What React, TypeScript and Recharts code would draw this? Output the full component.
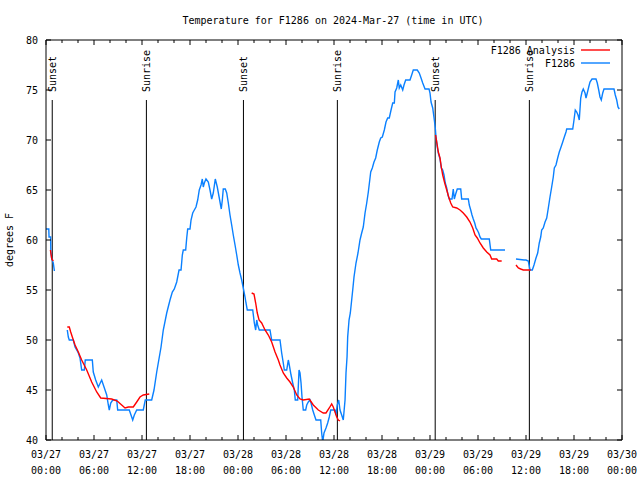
import React from 'react';
import { LineChart, Line, XAxis, YAxis, ReferenceLine } from 'recharts';

type Pt = [number, number];

// Observations (F1286), hours since 03/27 00:00 UTC, degrees F
const obsSeg1: Pt[] = [
  [0, 61.1], [0.35, 61.1], [0.38, 60.3], [0.58, 60.3], [0.6, 58.8], [0.72, 58.1], [0.91, 57.7], [1.05, 56.9],
];
const obsSeg2: Pt[] = [
  [2.66, 51.0], [2.79, 50.3], [2.91, 50.0], [3.41, 50.0], [3.63, 49.3], [3.84, 49.0], [4.04, 48.7], [4.25, 48.2],
  [4.46, 47.0], [4.79, 47.0], [4.91, 48.0], [5.79, 48.0], [5.91, 46.8], [6.21, 46.0], [6.54, 45.3], [6.96, 46.0],
  [7.38, 45.0], [7.59, 44.5], [7.79, 43.5], [7.91, 43.0], [8.09, 43.7], [8.34, 44.0], [8.84, 44.0], [8.96, 43.0],
  [10.41, 43.0], [10.71, 42.3], [10.84, 42.0], [11.04, 42.5], [11.34, 43.0], [12.16, 43.0], [12.41, 44.0], [13.21, 44.0],
  [13.5, 45.0], [13.84, 46.8], [14.38, 49.3], [14.66, 51.0], [15.09, 52.7], [15.5, 54.0], [15.79, 54.8], [16.04, 55.1],
  [16.34, 55.8], [16.63, 57.0], [16.88, 57.0], [17.04, 58.5], [17.16, 59.0], [17.46, 59.0], [17.59, 60.2], [17.71, 61.1],
  [18.0, 61.1], [18.13, 62.0], [18.34, 62.7], [18.54, 63.0], [18.75, 63.3], [18.96, 64.0], [19.16, 65.0], [19.38, 65.5],
  [19.54, 66.1], [19.66, 65.3], [19.79, 65.7], [20.0, 66.1], [20.29, 65.8], [20.5, 65.0], [20.71, 64.1], [20.91, 64.7],
  [21.16, 66.1], [21.41, 65.3], [21.66, 64.2], [21.91, 63.1], [22.04, 64.0], [22.16, 65.1], [22.41, 65.1], [22.59, 64.7],
  [22.79, 63.7], [23.0, 62.5], [23.21, 61.5], [23.41, 60.5], [23.63, 59.5], [23.84, 58.5], [24.04, 57.5], [24.25, 56.7],
  [24.46, 56.0], [24.66, 55.2], [24.88, 54.3], [25.0, 53.7], [25.16, 53.0], [25.84, 53.0], [26.04, 51.7], [26.21, 51.0],
  [26.34, 52.0], [26.46, 51.5], [26.66, 51.0], [28.0, 51.0], [28.21, 50.0], [29.25, 50.0], [29.46, 48.7], [29.66, 47.7],
  [29.79, 47.0], [30.09, 47.0], [30.29, 48.0], [30.41, 47.5], [30.63, 46.5], [30.84, 45.7], [31.04, 45.0], [31.16, 44.0],
  [31.46, 44.0], [31.63, 47.0], [31.75, 46.7], [31.88, 45.7], [32.0, 44.3], [32.16, 43.0], [32.46, 43.0], [32.59, 43.5],
  [32.79, 43.8], [33.0, 44.0], [33.13, 43.7], [33.34, 43.0], [33.54, 42.5], [33.75, 42.0], [34.34, 42.0], [34.46, 40.7],
  [34.59, 39.8], [34.75, 40.7], [35.0, 41.2], [35.21, 41.7], [35.41, 42.3], [35.59, 43.0], [36.13, 43.0], [36.25, 42.5],
  [36.41, 43.5], [36.59, 44.0], [36.75, 43.0], [36.96, 42.5], [37.16, 42.0], [37.38, 44.0], [37.5, 46.7], [37.63, 48.3],
  [37.71, 50.3], [37.88, 52.0], [38.04, 52.7], [38.21, 54.0], [38.34, 55.0], [38.5, 56.3], [38.75, 57.7], [39.0, 58.7],
  [39.25, 60.0], [39.46, 60.7], [39.66, 61.3], [39.88, 62.7], [40.09, 63.7], [40.29, 64.8], [40.5, 66.2], [40.59, 66.8],
  [40.79, 67.2], [41.0, 67.8], [41.21, 68.2], [41.41, 69.0], [41.66, 69.8], [41.84, 70.2], [42.04, 70.3], [42.29, 71.0],
  [42.5, 71.8], [42.71, 72.2], [42.91, 72.2], [43.13, 73.0], [43.34, 73.7], [43.54, 73.7], [43.63, 74.8], [43.84, 75.2],
  [44.04, 76.0], [44.16, 75.2], [44.34, 75.5], [44.59, 75.0], [44.75, 75.5], [44.96, 76.0], [45.5, 76.0], [45.71, 76.5],
  [45.91, 77.0], [46.41, 77.0], [46.66, 76.7], [46.88, 76.2], [47.09, 75.7], [47.38, 75.1], [47.88, 75.1], [48.0, 74.7],
  [48.13, 73.8], [48.34, 73.2], [48.54, 72.0], [48.66, 71.2], [48.75, 70.3], [48.91, 69.3], [49.04, 68.7], [49.25, 68.1],
  [49.41, 67.2], [49.59, 67.0], [49.75, 66.5], [49.91, 65.7], [50.09, 65.2], [50.25, 64.5], [50.41, 64.1], [50.75, 64.1],
  [50.91, 65.1], [51.04, 64.1], [51.21, 64.6], [51.41, 65.1], [51.84, 65.1], [51.96, 64.1], [52.79, 64.1], [52.91, 63.5],
  [53.09, 63.0], [53.25, 62.5], [53.41, 62.1], [53.59, 61.7], [53.75, 61.2], [53.91, 61.0], [54.09, 60.7], [54.25, 60.3],
  [54.41, 60.1], [55.41, 60.1], [55.59, 59.0], [57.38, 59.0],
];
const obsSeg3: Pt[] = [
  [58.75, 58.1], [59.75, 58.0], [60.0, 58.0], [60.29, 57.9], [60.5, 57.0], [60.79, 57.0], [61.0, 57.5], [61.25, 58.2],
  [61.46, 58.7], [61.66, 59.7], [61.84, 60.3], [61.96, 61.0], [62.16, 61.2], [62.38, 61.8], [62.59, 62.2], [62.79, 63.2],
  [63.0, 64.3], [63.21, 65.3], [63.41, 66.3], [63.54, 67.2], [63.75, 67.5], [63.96, 68.2], [64.16, 68.8], [64.38, 69.3],
  [64.59, 69.8], [64.79, 70.3], [65.0, 70.8], [65.09, 71.1], [65.84, 71.1], [66.0, 72.0], [66.16, 73.0], [66.34, 72.8],
  [66.5, 72.5], [66.66, 72.0], [66.84, 74.2], [67.0, 74.8], [67.16, 75.1], [67.38, 74.7], [67.5, 74.2], [67.66, 74.7],
  [67.84, 75.3], [68.0, 75.8], [68.25, 76.1], [68.75, 76.1], [68.91, 75.7], [69.09, 75.0], [69.25, 74.3], [69.41, 74.0],
  [69.59, 74.7], [69.75, 75.1], [71.0, 75.1], [71.16, 74.5], [71.34, 74.0], [71.5, 73.3], [71.66, 73.1],
];

// Analysis (F1286 Analysis)
const anaSeg1: Pt[] = [[0.55, 59.0], [0.72, 58.1], [0.91, 57.9]];
const anaSeg2: Pt[] = [
  [2.66, 51.3], [2.91, 51.3], [3.09, 50.8], [3.29, 50.3], [3.63, 49.5], [4.04, 48.8], [4.46, 48.0], [5.09, 47.0],
  [5.71, 45.8], [6.34, 44.8], [6.84, 44.2], [8.21, 44.1], [8.91, 43.9], [9.46, 43.5], [9.88, 43.2], [10.29, 43.3],
  [10.91, 43.3], [11.34, 43.8], [11.75, 44.3], [12.16, 44.5], [12.91, 44.6],
];
const anaSeg3: Pt[] = [
  [25.71, 54.7], [26.0, 54.6], [26.21, 53.7], [26.41, 52.7], [26.63, 52.0], [26.96, 51.7], [27.38, 51.0], [27.79, 50.5],
  [28.21, 49.8], [28.63, 48.8], [29.04, 48.0], [29.25, 47.5], [29.66, 46.7], [30.09, 46.2], [30.5, 45.8], [30.91, 45.3],
  [31.34, 44.5], [31.75, 44.1], [32.16, 44.0], [32.91, 44.1], [33.41, 43.5], [34.04, 43.0], [34.66, 42.7], [35.0, 42.7],
  [35.41, 43.2], [35.71, 43.6], [35.91, 43.3], [36.13, 42.8], [36.34, 42.3], [36.54, 42.0], [36.75, 41.9],
];
const anaSeg4: Pt[] = [
  [48.7, 70.5], [49.04, 68.8], [49.25, 68.2], [49.41, 67.3], [49.59, 66.5], [49.84, 65.7], [50.09, 65.0], [50.34, 64.3],
  [50.59, 63.7], [50.84, 63.3], [51.34, 63.2], [51.75, 63.0], [52.16, 62.7], [52.59, 62.3], [53.0, 61.8], [53.34, 61.2],
  [53.63, 60.5], [53.91, 60.2], [54.25, 59.7], [54.66, 59.2], [55.09, 58.8], [55.5, 58.5], [55.71, 58.1], [56.34, 58.1],
  [56.54, 57.9], [56.96, 57.9],
];
const anaSeg5: Pt[] = [[58.75, 57.5], [59.04, 57.2], [59.34, 57.1], [59.66, 57.0], [60.59, 57.0]];

const obsSegments = [obsSeg1, obsSeg2, obsSeg3];
const anaSegments = [anaSeg1, anaSeg2, anaSeg3, anaSeg4, anaSeg5];

// Sun events
const sunHours = [0.78, 12.55, 24.68, 36.42, 48.65, 60.42];
const sunNames = ['Sunset', 'Sunrise', 'Sunset', 'Sunrise', 'Sunset', 'Sunrise'];
const SUN_LINE_TOP = 74;

// Axis ticks
const xTickHours = [0, 2, 4, 6, 8, 10, 12, 14, 16, 18, 20, 22, 24, 26, 28, 30, 32, 34, 36, 38, 40, 42, 44, 46, 48, 50, 52, 54, 56, 58, 60, 62, 64, 66, 68, 70, 72];
const xMajorHours = [0, 6, 12, 18, 24, 30, 36, 42, 48, 54, 60, 66, 72];
const xLabelDates = ['03/27', '03/27', '03/27', '03/27', '03/28', '03/28', '03/28', '03/28', '03/29', '03/29', '03/29', '03/29', '03/30'];
const xLabelTimes = ['00:00', '06:00', '12:00', '18:00', '00:00', '06:00', '12:00', '18:00', '00:00', '06:00', '12:00', '18:00', '00:00'];
const yTicks = [40, 45, 50, 55, 60, 65, 70, 75, 80];

const title = 'Temperature for F1286 on 2024-Mar-27 (time in UTC)';
const yTitle = 'degrees F';
const anaName = 'F1286 Analysis';
const obsName = 'F1286';

const FONT = '"DejaVu Sans Mono", monospace';
const FS = 10;
const BLUE = '#0a80ff';
const RED = '#ff0000';
const LW = 1.4;

function joinSegments(segs: Pt[][]) {
  const out: { t: number; v: number | null }[] = [];
  segs.forEach((s, i) => {
    if (i > 0) {
      const prev = segs[i - 1];
      out.push({ t: (prev[prev.length - 1][0] + s[0][0]) / 2, v: null });
    }
    s.forEach(([t, v]) => out.push({ t, v }));
  });
  return out;
}

const obsData = joinSegments(obsSegments);
const anaData = joinSegments(anaSegments);

const BottomTick = (props: any) => {
  const { x, y, payload } = props;
  const idx = xMajorHours.indexOf(payload.value);
  const major = idx >= 0;
  return (
    <g>
      <line x1={x} x2={x} y1={y} y2={y - (major ? 5 : 3)} stroke="#000" strokeWidth={1} />
      {major && (
        <text x={x} y={y + 18} textAnchor="middle" fontFamily={FONT} fontSize={FS} fill="#000">
          <tspan x={x}>{xLabelDates[idx]}</tspan>
          <tspan x={x} dy={16}>{xLabelTimes[idx]}</tspan>
        </text>
      )}
    </g>
  );
};

const TopTick = (props: any) => {
  const { x, y, payload } = props;
  const major = xMajorHours.indexOf(payload.value) >= 0;
  return <line x1={x} x2={x} y1={y} y2={y + (major ? 5 : 3)} stroke="#000" strokeWidth={1} />;
};

const LeftTick = (props: any) => {
  const { x, y, payload } = props;
  return (
    <g>
      <line x1={x} x2={x + 5} y1={y} y2={y} stroke="#000" strokeWidth={1} />
      <text x={x - 8} y={y + 4} textAnchor="end" fontFamily={FONT} fontSize={FS} fill="#000">
        {payload.value}
      </text>
    </g>
  );
};

const RightTick = (props: any) => {
  const { x, y } = props;
  return <line x1={x} x2={x - 5} y1={y} y2={y} stroke="#000" strokeWidth={1} />;
};

const makeSunLabel = (text: string) => (props: any) => {
  const vb = props.viewBox || {};
  const x = (vb.x ?? 0) + 4;
  const y = (vb.y ?? 0) - 8;
  return (
    <text x={x} y={y} transform={`rotate(-90 ${x} ${y})`} fontFamily={FONT} fontSize={FS} fill="#000">
      {text}
    </text>
  );
};

export default function App() {
  return (
    <div style={{ position: 'absolute', left: 0, top: 0, width: 640, height: 480, background: '#fff' }}>
      <LineChart width={640} height={480} margin={{ top: 20, right: 0, bottom: 0, left: 0 }}>
        <XAxis
          xAxisId="b"
          dataKey="t"
          type="number"
          domain={[0, 72]}
          ticks={xTickHours}
          allowDataOverflow
          orientation="bottom"
          height={40}
          tickSize={0}
          tickMargin={0}
          tickLine={false}
          interval={0}
          axisLine={{ stroke: '#000' }}
          tick={<BottomTick />}
        />
        <XAxis
          xAxisId="t"
          dataKey="t"
          type="number"
          domain={[0, 72]}
          ticks={xTickHours}
          allowDataOverflow
          orientation="top"
          height={20}
          tickSize={0}
          tickMargin={0}
          tickLine={false}
          interval={0}
          axisLine={{ stroke: '#000' }}
          tick={<TopTick />}
        />
        <YAxis
          yAxisId="l"
          type="number"
          domain={[40, 80]}
          ticks={yTicks}
          allowDataOverflow
          orientation="left"
          width={46}
          tickSize={0}
          tickMargin={0}
          tickLine={false}
          interval={0}
          axisLine={{ stroke: '#000' }}
          tick={<LeftTick />}
        />
        <YAxis
          yAxisId="r"
          type="number"
          domain={[40, 80]}
          ticks={yTicks}
          allowDataOverflow
          orientation="right"
          width={18}
          tickSize={0}
          tickMargin={0}
          tickLine={false}
          interval={0}
          axisLine={{ stroke: '#000' }}
          tick={<RightTick />}
        />
        {sunHours.map((h, i) => (
          <ReferenceLine
            key={'sun' + i}
            xAxisId="b"
            yAxisId="l"
            segment={[{ x: h, y: 40 }, { x: h, y: SUN_LINE_TOP }]}
            stroke="#000"
            strokeWidth={1}
            label={makeSunLabel(sunNames[i])}
          />
        ))}
        <Line
          xAxisId="b"
          yAxisId="l"
          data={obsData}
          dataKey="v"
          stroke={BLUE}
          strokeWidth={LW}
          dot={false}
          activeDot={false}
          type="linear"
          isAnimationActive={false}
          connectNulls={false}
        />
        <Line
          xAxisId="b"
          yAxisId="l"
          data={anaData}
          dataKey="v"
          stroke={RED}
          strokeWidth={LW}
          dot={false}
          activeDot={false}
          type="linear"
          isAnimationActive={false}
          connectNulls={false}
        />
      </LineChart>
      <svg width={640} height={480} style={{ position: 'absolute', left: 0, top: 0, pointerEvents: 'none' }}>
        <text x={333} y={24} textAnchor="middle" fontFamily={FONT} fontSize={FS} fill="#000">{title}</text>
        <text x={13} y={240} transform="rotate(-90 13 240)" textAnchor="middle" fontFamily={FONT} fontSize={FS} fill="#000">{yTitle}</text>
        <text x={575} y={54} textAnchor="end" fontFamily={FONT} fontSize={FS} fill="#000">{anaName}</text>
        <line x1={581} x2={610} y1={50} y2={50} stroke={RED} strokeWidth={LW} />
        <text x={575} y={67} textAnchor="end" fontFamily={FONT} fontSize={FS} fill="#000">{obsName}</text>
        <line x1={581} x2={610} y1={63} y2={63} stroke={BLUE} strokeWidth={LW} />
      </svg>
    </div>
  );
}
